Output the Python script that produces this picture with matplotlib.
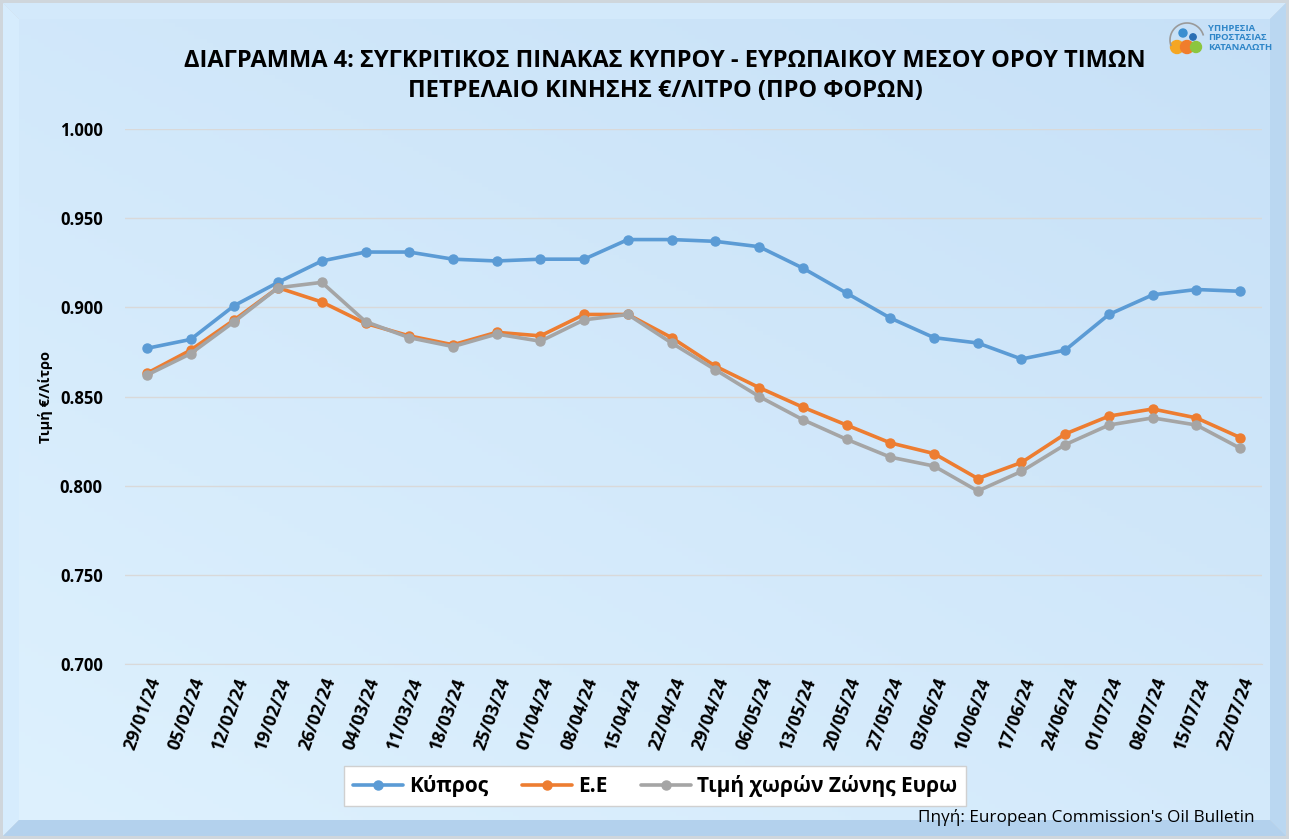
import numpy as np
import matplotlib
matplotlib.use("Agg")
import matplotlib.pyplot as plt
from matplotlib.patches import Circle, Polygon

plt.rcParams['font.family'] = ['Open Sans', 'DejaVu Sans']

dates = ['29/01/24', '05/02/24', '12/02/24', '19/02/24', '26/02/24', '04/03/24',
         '11/03/24', '18/03/24', '25/03/24', '01/04/24', '08/04/24', '15/04/24',
         '22/04/24', '29/04/24', '06/05/24', '13/05/24', '20/05/24', '27/05/24',
         '03/06/24', '10/06/24', '17/06/24', '24/06/24', '01/07/24', '08/07/24',
         '15/07/24', '22/07/24']

cyprus = [0.877, 0.882, 0.901, 0.914, 0.926, 0.931, 0.931, 0.927, 0.926, 0.927,
          0.927, 0.938, 0.938, 0.937, 0.934, 0.922, 0.908, 0.894, 0.883, 0.880,
          0.871, 0.876, 0.896, 0.907, 0.910, 0.909]
eu = [0.863, 0.876, 0.893, 0.911, 0.903, 0.891, 0.884, 0.879, 0.886, 0.884,
      0.896, 0.896, 0.883, 0.867, 0.855, 0.844, 0.834, 0.824, 0.818, 0.804,
      0.813, 0.829, 0.839, 0.843, 0.838, 0.827]
eurozone = [0.862, 0.874, 0.892, 0.911, 0.914, 0.892, 0.883, 0.878, 0.885, 0.881,
            0.893, 0.896, 0.880, 0.865, 0.850, 0.837, 0.826, 0.816, 0.811, 0.797,
            0.808, 0.823, 0.834, 0.838, 0.834, 0.821]

series = [('Κύπρος', cyprus, '#5b9bd5'),
          ('Ε.Ε', eu, '#ed7d31'),
          ('Τιμή χωρών Ζώνης Ευρω', eurozone, '#a5a5a5')]

W, H = 1289, 839
fig = plt.figure(figsize=(W / 100, H / 100), dpi=100)
fig.patch.set_facecolor('#cfd6dc')

# background: bevelled frame + soft gradient
bg = fig.add_axes([0, 0, 1, 1], zorder=-5)
bg.set_xlim(0, W)
bg.set_ylim(H, 0)
bg.axis('off')
o, b = 3, 16
x0, y0, x1, y1 = o, o, W - o, H - o
bg.add_patch(Polygon([(x0, y0), (x1, y0), (x1 - b, y0 + b), (x0 + b, y0 + b)],
                     color='#d3e9fb', lw=0))
bg.add_patch(Polygon([(x0, y0), (x0 + b, y0 + b), (x0 + b, y1 - b), (x0, y1)],
                     color='#d6ecfd', lw=0))
bg.add_patch(Polygon([(x1, y0), (x1, y1), (x1 - b, y1 - b), (x1 - b, y0 + b)],
                     color='#bad7f1', lw=0))
bg.add_patch(Polygon([(x0, y1), (x1, y1), (x1 - b, y1 - b), (x0 + b, y1 - b)],
                     color='#b3d1ed', lw=0))
yy, xx = np.mgrid[0:1:200j, 0:1:200j]
t = 0.55 * yy + 0.45 * (1 - xx)
c0 = np.array([0.78, 0.88, 0.97])
c1 = np.array([0.87, 0.945, 0.995])
img = c0 + (c1 - c0) * t[..., None]
bg.imshow(img, extent=(x0 + b, x1 - b, y1 - b, y0 + b), aspect='auto', zorder=3)

ax = fig.add_axes([125 / W, 1 - 664 / H, (1262 - 125) / W, (664 - 129) / H])
ax.set_facecolor('none')
x = np.arange(len(dates))
for name, vals, col in series:
    ax.plot(x, vals, color=col, lw=2.6, marker='o', ms=6.5, label=name,
            solid_capstyle='round')

ax.set_xlim(-0.5, len(dates) - 0.5)
ax.set_ylim(0.7, 1.0)
yt = np.arange(0.7, 1.0001, 0.05)
ax.set_yticks(yt)
ax.set_yticklabels([f'{v:.3f}' for v in yt], fontsize=12, fontweight='bold')
ax.set_xticks(x)
ax.set_xticklabels(dates, rotation=70, ha='right', rotation_mode='anchor',
                   fontsize=12.8, fontweight='bold')
ax.tick_params(axis='y', length=0, pad=16)
ax.tick_params(axis='x', length=0, pad=8)
ax.grid(axis='y', color='#d9d9d9', lw=1)
ax.set_axisbelow(True)
for s in ['top', 'right', 'left']:
    ax.spines[s].set_visible(False)
ax.spines['bottom'].set_color('#d9d9d9')
ax.set_ylabel('Τιμή €/Λίτρο', fontsize=10.5, fontweight='bold', labelpad=5)

fig.text(665 / W, 1 - 76 / H,
         'ΔΙΑΓΡΑΜΜΑ 4: ΣΥΓΚΡΙΤΙΚΟΣ ΠΙΝΑΚΑΣ ΚΥΠΡΟΥ - ΕΥΡΩΠΑΙΚΟΥ ΜΕΣΟΥ ΟΡΟΥ ΤΙΜΩΝ\n'
         'ΠΕΤΡΕΛΑΙΟ ΚΙΝΗΣΗΣ €/ΛΙΤΡΟ (ΠΡΟ ΦΟΡΩΝ)',
         ha='center', va='center', fontsize=17, fontweight='bold',
         linespacing=1.3)

leg = fig.legend(loc='center', bbox_to_anchor=(655 / W, 1 - 786 / H), ncol=3,
                 frameon=True, fancybox=False, shadow=False, handlelength=2.4,
                 handletextpad=0.3, columnspacing=1.6, borderpad=0.45,
                 prop={'size': 15, 'weight': 'bold'})
leg.get_frame().set_facecolor('white')
leg.get_frame().set_edgecolor('#d0d0d0')
leg.get_frame().set_alpha(1)

fig.text(1255 / W, 1 - 818 / H, "Πηγή: European Commission's Oil Bulletin",
         ha='right', va='center', fontsize=12.3)

# logo
lg = fig.add_axes([1166 / W, 1 - 58 / H, 42 / W, 42 / H])
lg.set_xlim(0, 42)
lg.set_ylim(0, 42)
lg.set_aspect('equal')
lg.axis('off')
th = np.linspace(0.1 * np.pi, 1.1 * np.pi, 60)
lg.plot(21 + 17 * np.cos(th), 18 + 17 * np.sin(th), color='#9a9a9a', lw=1.2)
lg.add_patch(Circle((11, 11), 6.5, color='#f5a623'))
lg.add_patch(Circle((21, 11), 6.5, color='#f07d2c'))
lg.add_patch(Circle((30, 11), 5.5, color='#8cc63f'))
lg.add_patch(Circle((17, 25), 4, color='#3a8fd0'))
lg.add_patch(Circle((27, 21), 3.2, color='#2a6fb5'))
fig.text(1208 / W, 1 - 38 / H, 'ΥΠΗΡΕΣΙΑ\nΠΡΟΣΤΑΣΙΑΣ\nΚΑΤΑΝΑΛΩΤΗ',
         ha='left', va='center', fontsize=6.8, fontweight='bold', color='#2f86c8',
         linespacing=1.05)

fig.savefig('out.png', dpi=100)
